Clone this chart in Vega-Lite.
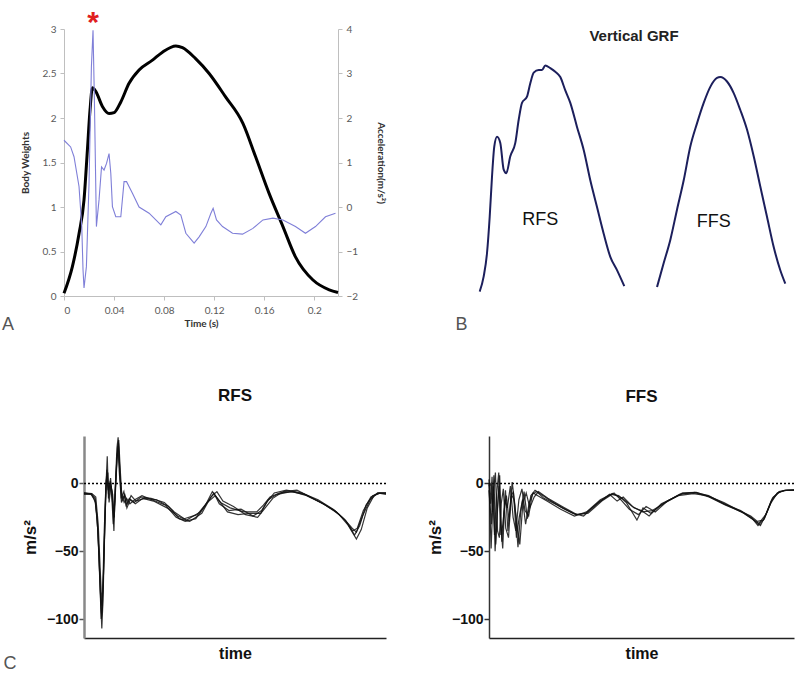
{
  "$schema": "https://vega.github.io/schema/vega-lite/v6.json",
  "padding": {"left": 2, "top": 8, "right": 0, "bottom": 0},
  "background": "white",
  "config": {"view": {"stroke": null}},
  "datasets": {
    "bw": [
      {"t":0,"bw":0.03},{"t":0.0067,"bw":0.33},{"t":0.012,"bw":0.7},{"t":0.016,"bw":1.08},{"t":0.0187,"bw":1.64},{"t":0.0208,"bw":2.09},{"t":0.0227,"bw":2.34},{"t":0.0254,"bw":2.3},{"t":0.0307,"bw":2.13},{"t":0.036,"bw":2.05},{"t":0.04,"bw":2.06},{"t":0.0454,"bw":2.18},{"t":0.052,"bw":2.39},{"t":0.06,"bw":2.54},{"t":0.0707,"bw":2.65},{"t":0.0787,"bw":2.74},{"t":0.0894,"bw":2.81},{"t":0.0947,"bw":2.79},{"t":0.105,"bw":2.67},{"t":0.116,"bw":2.5},{"t":0.129,"bw":2.24},{"t":0.143,"bw":1.94},{"t":0.153,"bw":1.57},{"t":0.164,"bw":1.15},{"t":0.175,"bw":0.78},{"t":0.185,"bw":0.44},{"t":0.199,"bw":0.18},{"t":0.212,"bw":0.07},{"t":0.219,"bw":0.04}
    ],
    "acc": [
      {"t":0,"a":1.5},{"t":0.0053,"a":1.35},{"t":0.008,"a":1.13},{"t":0.012,"a":0.46},{"t":0.0142,"a":-0.44},{"t":0.0152,"a":-1.41},{"t":0.016,"a":-1.82},{"t":0.0179,"a":-1.34},{"t":0.02,"a":0.53},{"t":0.0219,"a":3.15},{"t":0.0232,"a":3.97},{"t":0.0243,"a":2.4},{"t":0.0259,"a":-0.44},{"t":0.028,"a":0.16},{"t":0.03,"a":0.9},{"t":0.032,"a":0.83},{"t":0.034,"a":0.98},{"t":0.036,"a":1.2},{"t":0.0374,"a":0.76},{"t":0.0387,"a":0.01},{"t":0.0414,"a":-0.22},{"t":0.0454,"a":-0.22},{"t":0.048,"a":0.57},{"t":0.05,"a":0.57},{"t":0.0547,"a":0.31},{"t":0.06,"a":0.0},{"t":0.068,"a":-0.14},{"t":0.0734,"a":-0.29},{"t":0.0774,"a":-0.4},{"t":0.0814,"a":-0.22},{"t":0.0894,"a":-0.1},{"t":0.0934,"a":-0.18},{"t":0.0974,"a":-0.59},{"t":0.104,"a":-0.81},{"t":0.108,"a":-0.67},{"t":0.1134,"a":-0.44},{"t":0.1174,"a":-0.14},{"t":0.1192,"a":-0.03},{"t":0.1219,"a":-0.29},{"t":0.1267,"a":-0.44},{"t":0.1347,"a":-0.59},{"t":0.1427,"a":-0.61},{"t":0.151,"a":-0.48},{"t":0.159,"a":-0.29},{"t":0.167,"a":-0.25},{"t":0.175,"a":-0.29},{"t":0.185,"a":-0.44},{"t":0.193,"a":-0.59},{"t":0.201,"a":-0.44},{"t":0.209,"a":-0.22},{"t":0.217,"a":-0.14}
    ],
    "star": [{"t":0.0232,"a":3.97,"label":"*"}],
    "grf": [
      {"foot":"RFS","t":12.7,"f":0.05},{"foot":"RFS","t":16.7,"f":0.22},{"foot":"RFS","t":20,"f":0.48},{"foot":"RFS","t":22.7,"f":0.89},{"foot":"RFS","t":25,"f":1.34},{"foot":"RFS","t":27.3,"f":1.68},{"foot":"RFS","t":30,"f":1.79},{"foot":"RFS","t":33.3,"f":1.72},{"foot":"RFS","t":36.7,"f":1.42},{"foot":"RFS","t":39.3,"f":1.38},{"foot":"RFS","t":43.3,"f":1.57},{"foot":"RFS","t":48.3,"f":1.72},{"foot":"RFS","t":51.7,"f":1.98},{"foot":"RFS","t":55,"f":2.17},{"foot":"RFS","t":60,"f":2.24},{"foot":"RFS","t":63.3,"f":2.39},{"foot":"RFS","t":66.7,"f":2.51},{"foot":"RFS","t":71.7,"f":2.54},{"foot":"RFS","t":75,"f":2.54},{"foot":"RFS","t":78.3,"f":2.59},{"foot":"RFS","t":83.3,"f":2.56},{"foot":"RFS","t":88.3,"f":2.52},{"foot":"RFS","t":93.3,"f":2.46},{"foot":"RFS","t":98.3,"f":2.31},{"foot":"RFS","t":103.3,"f":2.17},{"foot":"RFS","t":110,"f":1.9},{"foot":"RFS","t":116.7,"f":1.64},{"foot":"RFS","t":123.3,"f":1.3},{"foot":"RFS","t":130,"f":1.0},{"foot":"RFS","t":136.7,"f":0.7},{"foot":"RFS","t":143.3,"f":0.44},{"foot":"RFS","t":150,"f":0.29},{"foot":"RFS","t":157.3,"f":0.11},
      {"foot":"FFS","t":190,"f":0.1},{"foot":"FFS","t":196.7,"f":0.37},{"foot":"FFS","t":203.3,"f":0.63},{"foot":"FFS","t":210,"f":0.97},{"foot":"FFS","t":216.7,"f":1.3},{"foot":"FFS","t":223.3,"f":1.68},{"foot":"FFS","t":230,"f":1.94},{"foot":"FFS","t":236.7,"f":2.17},{"foot":"FFS","t":243.3,"f":2.35},{"foot":"FFS","t":250,"f":2.45},{"foot":"FFS","t":253.3,"f":2.46},{"foot":"FFS","t":260,"f":2.41},{"foot":"FFS","t":266.7,"f":2.28},{"foot":"FFS","t":273.3,"f":2.09},{"foot":"FFS","t":280,"f":1.87},{"foot":"FFS","t":286.7,"f":1.57},{"foot":"FFS","t":293.3,"f":1.23},{"foot":"FFS","t":300,"f":0.89},{"foot":"FFS","t":306.7,"f":0.55},{"foot":"FFS","t":313.3,"f":0.29},{"foot":"FFS","t":318.3,"f":0.14}
    ],
    "grflab": [{"t":73.3,"f":0.85,"label":"RFS"},{"t":246.7,"f":0.83,"label":"FFS"}],
    "zero": [{"v":0}],
    "rfs": [
      {"r":1,"t":0,"v":-7.4},{"r":1,"t":2.4,"v":-7.4},{"r":1,"t":3.7,"v":-11},{"r":1,"t":4.4,"v":-28},{"r":1,"t":4.9,"v":-50},{"r":1,"t":5.5,"v":-85},{"r":1,"t":5.9,"v":-107},{"r":1,"t":6.3,"v":-85},{"r":1,"t":6.8,"v":-40},{"r":1,"t":7.3,"v":-1},{"r":1,"t":7.7,"v":20},{"r":1,"t":8.1,"v":-11},{"r":1,"t":8.7,"v":2},{"r":1,"t":9.3,"v":-6},{"r":1,"t":9.9,"v":-35},{"r":1,"t":10.3,"v":-6},{"r":1,"t":10.9,"v":26},{"r":1,"t":11.3,"v":34},{"r":1,"t":11.8,"v":13},{"r":1,"t":12.3,"v":-11},{"r":1,"t":13.2,"v":-6},{"r":1,"t":13.9,"v":-16},{"r":1,"t":15,"v":-11},{"r":1,"t":16.6,"v":-14},{"r":1,"t":18.9,"v":-10},{"r":1,"t":22.2,"v":-11},{"r":1,"t":26.6,"v":-14},{"r":1,"t":29.9,"v":-21},{"r":1,"t":33.2,"v":-26},{"r":1,"t":37.5,"v":-23},{"r":1,"t":40.8,"v":-14},{"r":1,"t":43.5,"v":-9},{"r":1,"t":45.2,"v":-14},{"r":1,"t":48.4,"v":-18},{"r":1,"t":52.9,"v":-21},{"r":1,"t":57.2,"v":-21},{"r":1,"t":59.4,"v":-16},{"r":1,"t":61.6,"v":-10},{"r":1,"t":64.9,"v":-7},{"r":1,"t":69.3,"v":-6},{"r":1,"t":73.7,"v":-9},{"r":1,"t":79.2,"v":-15},{"r":1,"t":83.6,"v":-21},{"r":1,"t":86.8,"v":-28},{"r":1,"t":89.6,"v":-38},{"r":1,"t":91.3,"v":-31},{"r":1,"t":93.4,"v":-16},{"r":1,"t":95.6,"v":-9},{"r":1,"t":97.8,"v":-7.4},{"r":1,"t":100,"v":-7.4},
      {"r":2,"t":0,"v":-7},{"r":2,"t":2.5,"v":-8},{"r":2,"t":3.8,"v":-14},{"r":2,"t":4.6,"v":-35},{"r":2,"t":5.2,"v":-70},{"r":2,"t":5.7,"v":-100},{"r":2,"t":6.1,"v":-92},{"r":2,"t":6.6,"v":-55},{"r":2,"t":7.1,"v":-12},{"r":2,"t":7.5,"v":5},{"r":2,"t":8,"v":-5},{"r":2,"t":8.6,"v":0},{"r":2,"t":9.2,"v":-10},{"r":2,"t":9.7,"v":-30},{"r":2,"t":10.2,"v":-12},{"r":2,"t":10.8,"v":15},{"r":2,"t":11.2,"v":28},{"r":2,"t":11.7,"v":8},{"r":2,"t":12.4,"v":-14},{"r":2,"t":13.4,"v":-9},{"r":2,"t":14.2,"v":-18},{"r":2,"t":15.3,"v":-12},{"r":2,"t":17,"v":-15},{"r":2,"t":19.5,"v":-11},{"r":2,"t":23,"v":-13},{"r":2,"t":27.5,"v":-18},{"r":2,"t":31,"v":-24},{"r":2,"t":34,"v":-27},{"r":2,"t":38.5,"v":-21},{"r":2,"t":41.5,"v":-12},{"r":2,"t":43,"v":-7},{"r":2,"t":44.8,"v":-15},{"r":2,"t":48,"v":-20},{"r":2,"t":52,"v":-19},{"r":2,"t":56,"v":-24},{"r":2,"t":58.8,"v":-20},{"r":2,"t":61,"v":-12},{"r":2,"t":64,"v":-8},{"r":2,"t":68.5,"v":-6},{"r":2,"t":73,"v":-8},{"r":2,"t":78.5,"v":-14},{"r":2,"t":83,"v":-20},{"r":2,"t":86.5,"v":-27},{"r":2,"t":89,"v":-35},{"r":2,"t":90.5,"v":-33},{"r":2,"t":92.5,"v":-20},{"r":2,"t":95,"v":-10},{"r":2,"t":97.5,"v":-7},{"r":2,"t":100,"v":-7},
      {"r":3,"t":0,"v":-8},{"r":3,"t":2.3,"v":-8},{"r":3,"t":3.6,"v":-12},{"r":3,"t":4.3,"v":-24},{"r":3,"t":4.8,"v":-45},{"r":3,"t":5.4,"v":-78},{"r":3,"t":5.8,"v":-96},{"r":3,"t":6.2,"v":-80},{"r":3,"t":6.7,"v":-35},{"r":3,"t":7.2,"v":-4},{"r":3,"t":7.6,"v":10},{"r":3,"t":8.1,"v":-8},{"r":3,"t":8.8,"v":4},{"r":3,"t":9.4,"v":-12},{"r":3,"t":9.9,"v":-25},{"r":3,"t":10.4,"v":-3},{"r":3,"t":10.9,"v":18},{"r":3,"t":11.4,"v":30},{"r":3,"t":11.9,"v":6},{"r":3,"t":12.5,"v":-8},{"r":3,"t":13.3,"v":-14},{"r":3,"t":14.1,"v":-11},{"r":3,"t":15.2,"v":-15},{"r":3,"t":16.8,"v":-12},{"r":3,"t":19.2,"v":-9},{"r":3,"t":22.5,"v":-12},{"r":3,"t":27,"v":-16},{"r":3,"t":30.5,"v":-25},{"r":3,"t":33.5,"v":-28},{"r":3,"t":37,"v":-26},{"r":3,"t":40,"v":-17},{"r":3,"t":42.5,"v":-6},{"r":3,"t":44.5,"v":-12},{"r":3,"t":47.5,"v":-21},{"r":3,"t":51,"v":-23},{"r":3,"t":55,"v":-22},{"r":3,"t":58.5,"v":-22},{"r":3,"t":60.5,"v":-14},{"r":3,"t":63,"v":-7},{"r":3,"t":67,"v":-5},{"r":3,"t":72,"v":-7},{"r":3,"t":77.5,"v":-12},{"r":3,"t":82.5,"v":-19},{"r":3,"t":86,"v":-26},{"r":3,"t":88.8,"v":-33},{"r":3,"t":90.2,"v":-36},{"r":3,"t":92.2,"v":-24},{"r":3,"t":94.8,"v":-12},{"r":3,"t":97.2,"v":-7},{"r":3,"t":100,"v":-8},
      {"r":4,"t":0,"v":-7},{"r":4,"t":2.6,"v":-7.5},{"r":4,"t":3.9,"v":-10},{"r":4,"t":4.7,"v":-30},{"r":4,"t":5.3,"v":-60},{"r":4,"t":5.9,"v":-90},{"r":4,"t":6.4,"v":-70},{"r":4,"t":6.9,"v":-30},{"r":4,"t":7.4,"v":2},{"r":4,"t":7.9,"v":8},{"r":4,"t":8.3,"v":-14},{"r":4,"t":8.9,"v":-2},{"r":4,"t":9.5,"v":-8},{"r":4,"t":10,"v":-25},{"r":4,"t":10.5,"v":-2},{"r":4,"t":11,"v":20},{"r":4,"t":11.5,"v":32},{"r":4,"t":12,"v":10},{"r":4,"t":12.6,"v":-12},{"r":4,"t":13.5,"v":-8},{"r":4,"t":14.4,"v":-15},{"r":4,"t":15.6,"v":-9},{"r":4,"t":17.2,"v":-13},{"r":4,"t":20,"v":-11},{"r":4,"t":24,"v":-12},{"r":4,"t":28,"v":-17},{"r":4,"t":31.5,"v":-26},{"r":4,"t":35,"v":-28},{"r":4,"t":39,"v":-22},{"r":4,"t":42,"v":-10},{"r":4,"t":44,"v":-6},{"r":4,"t":46,"v":-13},{"r":4,"t":49.5,"v":-17},{"r":4,"t":53.5,"v":-23},{"r":4,"t":57.5,"v":-25},{"r":4,"t":60,"v":-18},{"r":4,"t":62.5,"v":-11},{"r":4,"t":66,"v":-6},{"r":4,"t":70.5,"v":-5},{"r":4,"t":75,"v":-10},{"r":4,"t":80,"v":-16},{"r":4,"t":84.5,"v":-23},{"r":4,"t":87.5,"v":-31},{"r":4,"t":90.2,"v":-41},{"r":4,"t":91.8,"v":-34},{"r":4,"t":93.8,"v":-18},{"r":4,"t":96,"v":-9},{"r":4,"t":98,"v":-7},{"r":4,"t":100,"v":-7}
    ],
    "ffs": [
      {"r":1,"t":0,"v":-2},{"r":1,"t":0.6,"v":0},{"r":1,"t":1.1,"v":-21},{"r":1,"t":1.6,"v":6},{"r":1,"t":2.2,"v":-45},{"r":1,"t":3,"v":-11},{"r":1,"t":3.5,"v":6},{"r":1,"t":4.2,"v":-43},{"r":1,"t":4.9,"v":-21},{"r":1,"t":5.7,"v":-9},{"r":1,"t":6.6,"v":-28},{"r":1,"t":7.6,"v":1},{"r":1,"t":8.5,"v":-16},{"r":1,"t":9.5,"v":-47},{"r":1,"t":10.4,"v":-21},{"r":1,"t":11.5,"v":-6},{"r":1,"t":12.6,"v":-26},{"r":1,"t":13.7,"v":-9},{"r":1,"t":15.1,"v":-5},{"r":1,"t":16.4,"v":-7},{"r":1,"t":19.7,"v":-12},{"r":1,"t":24,"v":-18},{"r":1,"t":28.4,"v":-23},{"r":1,"t":31.7,"v":-22},{"r":1,"t":36.1,"v":-13.5},{"r":1,"t":40.4,"v":-7.4},{"r":1,"t":43.7,"v":-11},{"r":1,"t":47,"v":-17},{"r":1,"t":50.3,"v":-21},{"r":1,"t":53.5,"v":-20},{"r":1,"t":57.9,"v":-14},{"r":1,"t":63.4,"v":-7.4},{"r":1,"t":67.8,"v":-7},{"r":1,"t":72.1,"v":-10},{"r":1,"t":77.6,"v":-16},{"r":1,"t":83,"v":-21},{"r":1,"t":86.3,"v":-26},{"r":1,"t":88.5,"v":-29.5},{"r":1,"t":90.7,"v":-23},{"r":1,"t":92.9,"v":-11},{"r":1,"t":95.1,"v":-6},{"r":1,"t":97.3,"v":-5},{"r":1,"t":100,"v":-5},
      {"r":2,"t":0,"v":-5},{"r":2,"t":0.8,"v":-30},{"r":2,"t":1.4,"v":-2},{"r":2,"t":2,"v":-50},{"r":2,"t":2.7,"v":-20},{"r":2,"t":3.3,"v":-2},{"r":2,"t":3.9,"v":-38},{"r":2,"t":4.6,"v":-30},{"r":2,"t":5.4,"v":-5},{"r":2,"t":6.2,"v":-35},{"r":2,"t":7.2,"v":-10},{"r":2,"t":8,"v":-6},{"r":2,"t":9,"v":-40},{"r":2,"t":9.9,"v":-25},{"r":2,"t":11,"v":-12},{"r":2,"t":12,"v":-30},{"r":2,"t":13.2,"v":-14},{"r":2,"t":14.5,"v":-7},{"r":2,"t":16,"v":-9},{"r":2,"t":19,"v":-13},{"r":2,"t":23.5,"v":-19},{"r":2,"t":28,"v":-24},{"r":2,"t":32,"v":-21},{"r":2,"t":36.5,"v":-12},{"r":2,"t":40,"v":-8},{"r":2,"t":42.5,"v":-9},{"r":2,"t":45,"v":-14},{"r":2,"t":48.5,"v":-27},{"r":2,"t":50.5,"v":-18},{"r":2,"t":53,"v":-22},{"r":2,"t":57,"v":-15},{"r":2,"t":62.5,"v":-8},{"r":2,"t":67.5,"v":-6.5},{"r":2,"t":72,"v":-9},{"r":2,"t":77,"v":-15},{"r":2,"t":82.5,"v":-20},{"r":2,"t":86,"v":-25},{"r":2,"t":88.2,"v":-31},{"r":2,"t":90.3,"v":-26},{"r":2,"t":92.5,"v":-13},{"r":2,"t":94.8,"v":-7},{"r":2,"t":97,"v":-5},{"r":2,"t":100,"v":-5},
      {"r":3,"t":0,"v":3},{"r":3,"t":0.5,"v":-15},{"r":3,"t":1,"v":5},{"r":3,"t":1.8,"v":-38},{"r":3,"t":2.5,"v":-8},{"r":3,"t":3.2,"v":8},{"r":3,"t":3.8,"v":-28},{"r":3,"t":4.5,"v":-48},{"r":3,"t":5.2,"v":-12},{"r":3,"t":6,"v":-18},{"r":3,"t":7,"v":-2},{"r":3,"t":7.9,"v":-25},{"r":3,"t":8.8,"v":-35},{"r":3,"t":9.8,"v":-12},{"r":3,"t":10.8,"v":-4},{"r":3,"t":11.8,"v":-20},{"r":3,"t":13,"v":-24},{"r":3,"t":14.2,"v":-8},{"r":3,"t":15.6,"v":-6},{"r":3,"t":18,"v":-11},{"r":3,"t":22.5,"v":-16},{"r":3,"t":27.5,"v":-22},{"r":3,"t":31,"v":-24},{"r":3,"t":35.5,"v":-15},{"r":3,"t":39.5,"v":-8},{"r":3,"t":42,"v":-13},{"r":3,"t":44,"v":-10},{"r":3,"t":47.5,"v":-18},{"r":3,"t":50,"v":-20},{"r":3,"t":52.5,"v":-24},{"r":3,"t":56.5,"v":-15},{"r":3,"t":62,"v":-9},{"r":3,"t":67,"v":-7.5},{"r":3,"t":71.5,"v":-9},{"r":3,"t":77,"v":-14},{"r":3,"t":82,"v":-20},{"r":3,"t":85.8,"v":-24},{"r":3,"t":88,"v":-28},{"r":3,"t":90,"v":-27},{"r":3,"t":92.3,"v":-15},{"r":3,"t":94.5,"v":-7},{"r":3,"t":97,"v":-5},{"r":3,"t":100,"v":-4.5},
      {"r":4,"t":0,"v":0},{"r":4,"t":0.7,"v":-48},{"r":4,"t":1.3,"v":-10},{"r":4,"t":2.1,"v":8},{"r":4,"t":2.8,"v":-35},{"r":4,"t":3.4,"v":-40},{"r":4,"t":4,"v":-15},{"r":4,"t":4.7,"v":-4},{"r":4,"t":5.5,"v":-33},{"r":4,"t":6.4,"v":-40},{"r":4,"t":7.3,"v":-8},{"r":4,"t":8.2,"v":-12},{"r":4,"t":9.2,"v":-30},{"r":4,"t":10.1,"v":-45},{"r":4,"t":11.1,"v":-15},{"r":4,"t":12.2,"v":-7},{"r":4,"t":13.4,"v":-18},{"r":4,"t":14.8,"v":-10},{"r":4,"t":16.2,"v":-6},{"r":4,"t":19.3,"v":-11},{"r":4,"t":24,"v":-17},{"r":4,"t":28.8,"v":-23},{"r":4,"t":32.5,"v":-22},{"r":4,"t":37,"v":-13},{"r":4,"t":41,"v":-7},{"r":4,"t":43.2,"v":-12},{"r":4,"t":46,"v":-19},{"r":4,"t":49,"v":-23},{"r":4,"t":51.5,"v":-17},{"r":4,"t":54.5,"v":-21},{"r":4,"t":58.5,"v":-13},{"r":4,"t":63.5,"v":-7},{"r":4,"t":68,"v":-6.5},{"r":4,"t":72.5,"v":-10},{"r":4,"t":78,"v":-16},{"r":4,"t":83.5,"v":-22},{"r":4,"t":86.8,"v":-27},{"r":4,"t":89,"v":-31},{"r":4,"t":91,"v":-22},{"r":4,"t":93.2,"v":-10},{"r":4,"t":95.5,"v":-6},{"r":4,"t":97.8,"v":-5},{"r":4,"t":100,"v":-5}
    ]
  },
  "spacing": 52,
  "vconcat": [
    {
      "spacing": 69,
      "title": {"text": "A", "orient": "bottom", "anchor": "start", "frame": "bounds", "font": "Liberation Sans", "fontSize": 18, "fontWeight": "normal", "color": "#555", "dx": -18, "offset": 0, "dy": -17},
      "hconcat": [
        {
          "width": 274,
          "height": 267,
          "resolve": {"scale": {"y": "independent"}},
          "layer": [
            {
              "data": {"name": "bw"},
              "mark": {"type": "line", "color": "#000000", "strokeWidth": 3, "interpolate": "monotone"},
              "encoding": {
                "x": {"field": "t", "type": "quantitative", "scale": {"domain": [0, 0.219], "nice": false},
                  "axis": {"values": [0, 0.04, 0.08, 0.12, 0.16, 0.2], "format": ".2~f", "title": "Time (s)", "grid": false, "domainColor": "#bfbfbf", "tickColor": "#bfbfbf", "tickSize": 4, "labelColor": "#595959", "labelFont": "Lato", "labelFontSize": 10, "labelPadding": 5, "titleFont": "Lato", "titleFontSize": 10, "titleFontWeight": "bold", "titleColor": "#333", "titlePadding": 3}},
                "y": {"field": "bw", "type": "quantitative", "scale": {"domain": [0, 3], "nice": false},
                  "axis": {"values": [0, 0.5, 1, 1.5, 2, 2.5, 3], "format": ".1~f", "title": "Body Weights", "grid": false, "domainColor": "#bfbfbf", "tickColor": "#bfbfbf", "tickSize": 4, "labelColor": "#595959", "labelFont": "Lato", "labelFontSize": 10, "labelPadding": 4, "titleFont": "Lato", "titleFontSize": 10, "titleFontWeight": "bold", "titleColor": "#333", "titlePadding": 12}}
              }
            },
            {
              "layer": [
                {
                  "data": {"name": "acc"},
                  "mark": {"type": "line", "color": "#7f7fd8", "strokeWidth": 1.1},
                  "encoding": {
                    "x": {"field": "t", "type": "quantitative"},
                    "y": {"field": "a", "type": "quantitative", "scale": {"domain": [-2, 4], "nice": false},
                      "axis": {"orient": "right", "values": [-2, -1, 0, 1, 2, 3, 4], "title": "Acceleration(m/s²)", "grid": false, "domainColor": "#bfbfbf", "tickColor": "#bfbfbf", "tickSize": 4, "labelColor": "#595959", "labelFont": "Lato", "labelFontSize": 10, "labelPadding": 4, "titleFont": "Lato", "titleFontSize": 10, "titleFontWeight": "bold", "titleColor": "#333", "titlePadding": 18}}
                  }
                },
                {
                  "data": {"name": "star"},
                  "mark": {"type": "text", "color": "#e02020", "fontSize": 30, "fontWeight": "bold", "font": "Liberation Sans", "baseline": "alphabetic", "dy": 2, "clip": false},
                  "encoding": {
                    "x": {"field": "t", "type": "quantitative"},
                    "y": {"field": "a", "type": "quantitative"},
                    "text": {"field": "label"}
                  }
                }
              ]
            }
          ]
        },
        {
          "width": 320,
          "height": 267,
          "title": {"text": "Vertical GRF", "font": "Liberation Sans", "fontSize": 15, "fontWeight": "bold", "color": "#222", "anchor": "middle", "dx": 7, "dy": 15, "offset": 0},
          "layer": [
            {
              "data": {"name": "grf"},
              "mark": {"type": "line", "color": "#1c1f5c", "strokeWidth": 2, "interpolate": "monotone"},
              "encoding": {
                "x": {"field": "t", "type": "quantitative", "scale": {"domain": [0, 320], "nice": false},
                  "axis": {"domain": false, "ticks": false, "labels": false, "grid": false, "title": "B", "titleFont": "Liberation Sans", "titleFontSize": 18, "titleFontWeight": "normal", "titleColor": "#555", "titleAnchor": "start", "titleAlign": "left", "titleBaseline": "middle", "titleX": -12, "titleY": 28}},
                "y": {"field": "f", "type": "quantitative", "scale": {"domain": [0, 3], "nice": false}, "axis": null},
                "detail": {"field": "foot"}
              }
            },
            {
              "data": {"name": "grflab"},
              "mark": {"type": "text", "font": "Liberation Sans", "fontSize": 18, "color": "#111"},
              "encoding": {
                "x": {"field": "t", "type": "quantitative"},
                "y": {"field": "f", "type": "quantitative"},
                "text": {"field": "label"}
              }
            }
          ]
        }
      ]
    },
    {
      "spacing": 37,
      "title": {"text": "C", "orient": "bottom", "anchor": "start", "frame": "bounds", "font": "Liberation Sans", "fontSize": 18, "fontWeight": "normal", "color": "#555", "dx": -18, "offset": 0, "dy": -6},
      "hconcat": [
        {
          "width": 322,
          "height": 202,
          "title": {"text": "RFS", "font": "Liberation Sans", "fontSize": 17, "fontWeight": "bold", "color": "#111", "offset": 30, "dx": 10},
          "layer": [
            {
              "data": {"name": "zero"},
              "mark": {"type": "rule", "strokeDash": [2, 2], "strokeWidth": 1.5, "color": "#000"},
              "encoding": {"x": {"datum": 0, "type": "quantitative"}, "x2": {"datum": 100}, "y": {"field": "v", "type": "quantitative"}}
            },
            {
              "data": {"name": "rfs"},
              "mark": {"type": "line", "color": "#111", "strokeWidth": 1.2, "opacity": 0.85},
              "encoding": {
                "x": {"field": "t", "type": "quantitative", "scale": {"domain": [0, 100], "nice": false, "range": [20, 322]},
                  "axis": {"labels": false, "ticks": false, "grid": false, "domainColor": "#222", "domainWidth": 1.5, "title": "time", "titleFont": "Liberation Sans", "titleFontSize": 16, "titleFontWeight": "bold", "titleColor": "#111", "titlePadding": 7}},
                "y": {"field": "v", "type": "quantitative", "scale": {"domain": [-114, 35], "nice": false},
                  "axis": {"offset": -20, "values": [0, -50, -100], "grid": false, "domainColor": "#888", "domainWidth": 2.5, "tickColor": "#555", "tickSize": 5, "tickWidth": 1.5, "labelFont": "Liberation Sans", "labelFontSize": 14, "labelFontWeight": "bold", "labelColor": "#111", "labelPadding": 1, "title": "m/s²", "titleFont": "Liberation Sans", "titleFontSize": 17, "titleFontWeight": "bold", "titleColor": "#111", "titlePadding": 7}},
                "detail": {"field": "r"}
              }
            }
          ]
        },
        {
          "width": 305,
          "height": 202,
          "title": {"text": "FFS", "font": "Liberation Sans", "fontSize": 17, "fontWeight": "bold", "color": "#111", "offset": 30},
          "layer": [
            {
              "data": {"name": "zero"},
              "mark": {"type": "rule", "strokeDash": [2, 2], "strokeWidth": 1.5, "color": "#000"},
              "encoding": {"y": {"field": "v", "type": "quantitative"}}
            },
            {
              "data": {"name": "ffs"},
              "mark": {"type": "line", "color": "#111", "strokeWidth": 1.2, "opacity": 0.85},
              "encoding": {
                "x": {"field": "t", "type": "quantitative", "scale": {"domain": [0, 100], "nice": false},
                  "axis": {"labels": false, "ticks": false, "grid": false, "domainColor": "#222", "domainWidth": 1.5, "title": "time", "titleFont": "Liberation Sans", "titleFontSize": 16, "titleFontWeight": "bold", "titleColor": "#111", "titlePadding": 7}},
                "y": {"field": "v", "type": "quantitative", "scale": {"domain": [-114, 35], "nice": false},
                  "axis": {"values": [0, -50, -100], "grid": false, "domainColor": "#333", "domainWidth": 1.5, "tickColor": "#333", "tickSize": 5, "tickWidth": 1.5, "labelFont": "Liberation Sans", "labelFontSize": 14, "labelFontWeight": "bold", "labelColor": "#111", "labelPadding": 1, "title": "m/s²", "titleFont": "Liberation Sans", "titleFontSize": 17, "titleFontWeight": "bold", "titleColor": "#111", "titlePadding": 7}},
                "detail": {"field": "r"}
              }
            }
          ]
        }
      ]
    }
  ]
}
